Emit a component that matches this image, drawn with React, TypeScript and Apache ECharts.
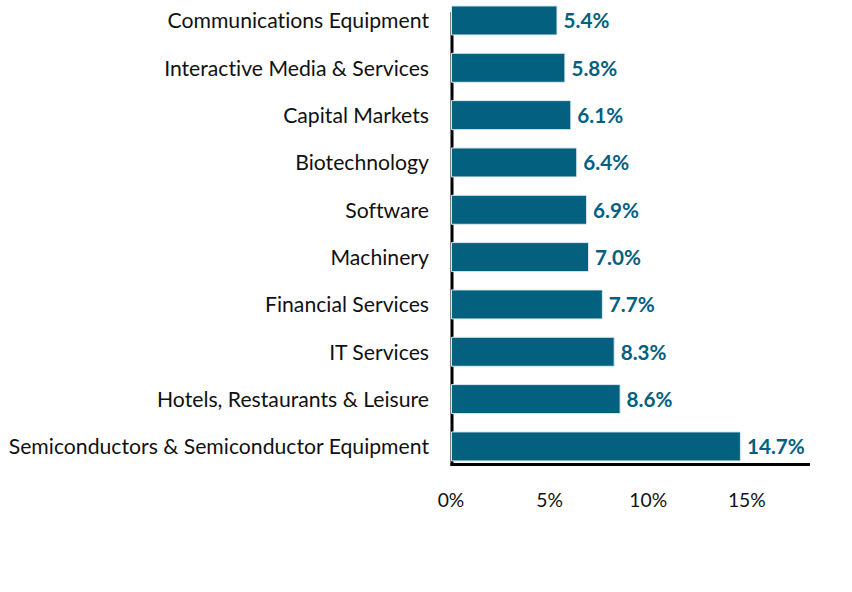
import React, { useEffect, useRef } from "react";
import * as echarts from "echarts";

const categories = [
  "Communications Equipment",
  "Interactive Media & Services",
  "Capital Markets",
  "Biotechnology",
  "Software",
  "Machinery",
  "Financial Services",
  "IT Services",
  "Hotels, Restaurants & Leisure",
  "Semiconductors & Semiconductor Equipment",
];
const weights = [5.4, 5.8, 6.1, 6.4, 6.9, 7.0, 7.7, 8.3, 8.6, 14.7];
const xTicks = [0, 5, 10, 15];

const BAR = "#04607f";
const FONT = "Lato";
// the chart canvas sits slightly above the page top so the first row hugs the edge
const SHIFT = 4;

export default function App() {
  const ref = useRef<HTMLDivElement>(null);
  useEffect(() => {
    if (!ref.current) return;
    const chart = echarts.init(ref.current, undefined, { renderer: "svg" });
    const gridLeft = 451;
    const gridTop = 0.8;
    const gridHeight = 473.3;
    const gridWidth = 355;
    chart.setOption({
      animation: false,
      grid: { left: gridLeft, top: gridTop, width: gridWidth, height: gridHeight, containLabel: false },
      xAxis: {
        type: "value",
        min: 0,
        max: 18,
        interval: 5,
        axisLine: { show: false },
        axisTick: { show: false },
        splitLine: { show: false },
        axisLabel: {
          showMaxLabel: false,
          margin: 20,
          fontFamily: FONT,
          fontSize: 19.3,
          color: "#111",
          formatter: (v: number) => (xTicks.includes(v) ? `${v}%` : ""),
        },
      },
      yAxis: {
        type: "category",
        data: categories,
        inverse: true,
        axisLine: { show: false },
        axisTick: { show: false },
        axisLabel: { margin: 22, fontFamily: FONT, fontSize: 21.2, color: "#111" },
      },
      series: [
        {
          type: "bar",
          data: weights,
          barWidth: 30,
          itemStyle: { color: BAR, borderColor: "#dde8ee", borderWidth: 1 },
          label: {
            show: true,
            position: "right",
            distance: 6,
            fontFamily: FONT,
            fontWeight: "bold",
            fontSize: 20.7,
            color: BAR,
            formatter: (p: any) => `${Number(p.value).toFixed(1)}%`,
          },
        },
      ],
      graphic: [
        {
          type: "line",
          shape: { x1: 452, y1: 12 + SHIFT, x2: 452, y2: 466 + SHIFT },
          style: { stroke: "#000", lineWidth: 3 },
        },
        {
          type: "line",
          shape: { x1: 450.5, y1: 464.5 + SHIFT, x2: 810, y2: 464.5 + SHIFT },
          style: { stroke: "#000", lineWidth: 3 },
        },
      ],
    });
    return () => chart.dispose();
  }, []);
  return (
    <>
      <style>{"text { font-variant-ligatures: none !important; font-feature-settings: 'liga' 0, 'clig' 0 !important; }"}</style>
      <div
        ref={ref}
        style={{ width: 852, height: 592 + SHIFT, position: "absolute", left: 0, top: -SHIFT }}
      />
    </>
  );
}
